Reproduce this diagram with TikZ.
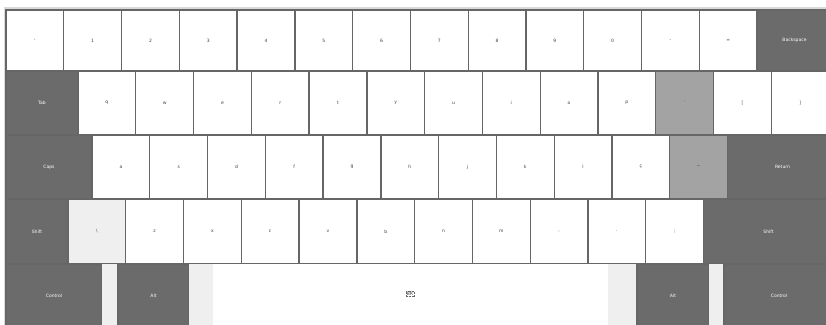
\documentclass[tikz,border=0pt]{standalone}
\usepackage{fontspec}
\newfontfamily\keyfont{DejaVu Sans}
\definecolor{keydark}{HTML}{6B6B6B}
\definecolor{keydead}{HTML}{A3A3A3}
\definecolor{keypale}{HTML}{EFEFEF}
\definecolor{keyedge}{HTML}{666666}

\begin{document}
\begin{tikzpicture}[x=1pt, y=-1pt,
    key/.style={draw=keyedge, line width=1.3pt, fill=white, anchor=north west,
      inner sep=0pt, outer sep=0pt, text=black!75,
      font=\keyfont\fontsize{4.5}{5}\selectfont, minimum width=57.8pt},
    modkey/.style={key, fill=keydark, text=white},
    deadkey/.style={key, fill=keydead},
    palekey/.style={key, fill=keypale},
    gapkey/.style={fill=keypale, anchor=north west, inner sep=0pt, outer sep=0pt}]
                \useasboundingbox (0,0) rectangle (826,324);
                \draw[draw=black!15, line width=1.5pt] (5,8) rectangle (840,340);
                % row 1
                \foreach \lab [count=\i from 0] in {',1,2,3,4,5,6,7,8,9,0,-,=}
                  \node[key, minimum height=61pt] (ra\i) at (6+57.77*\i,10) {\lab};
                \node[modkey, minimum width=75pt, minimum height=61pt] (bksp) at (757,10) {Backspace};
                % row 2
                \node[modkey, minimum width=72pt, minimum height=64pt] (tab) at (6,71) {Tab};
                \foreach \lab [count=\i from 0] in {q,w,e,r,t,y,u,i,o,p}
                  \node[key, minimum height=64pt] (rb\i) at (78+57.77*\i,71) {\lab};
                \node[deadkey, minimum height=64pt] (acute) at (655.7,71) {´};
                \foreach \lab [count=\i from 0] in {{[},{]}}
                  \node[key, minimum height=64pt] (brk\i) at (713.5+57.77*\i,71) {\lab};
                % row 3
                \node[modkey, minimum width=86pt, minimum height=64pt] (caps) at (6,135) {Caps};
                \foreach \lab [count=\i from 0] in {a,s,d,f,g,h,j,k,l,ç}
                  \node[key, minimum height=64pt] (rc\i) at (92+57.77*\i,135) {\lab};
                \node[deadkey, minimum height=64pt] (tilde) at (669.7,135) {\textasciitilde};
                \node[modkey, minimum width=110pt, minimum height=64pt] (ret) at (727.5,135) {Return};
                % row 4
                \node[modkey, minimum width=62pt, minimum height=65pt] (lshift) at (6,199) {Shift};
                \node[palekey, minimum height=65pt] (bslash) at (68,199) {\textbackslash};
                \foreach \lab [count=\i from 1] in {z,x,c,v,b,n,m,{,},.,;}
                  \node[key, minimum height=65pt] (rd\i) at (68+57.77*\i,199) {\lab};
                \node[modkey, minimum width=130pt, minimum height=65pt] (rshift) at (703.5,199) {Shift};
                % row 5
                \node[modkey, minimum width=96pt, minimum height=64pt] (lctrl) at (6,264) {Control};
                \node[gapkey, minimum width=16pt, minimum height=64pt] (gapa) at (102,264) {};
                \node[modkey, minimum width=71pt, minimum height=64pt] (lalt) at (118,264) {Alt};
                \node[gapkey, minimum width=24pt, minimum height=64pt] (gapb) at (189,264) {};
                \node[gapkey, fill=white, minimum width=395pt, minimum height=64pt] (space) at (213,264) {};
                \node[gapkey, minimum width=29pt, minimum height=64pt] (gapc) at (608,264) {};
                \node[modkey, minimum width=72pt, minimum height=64pt] (ralt) at (637,264) {Alt};
                \node[gapkey, minimum width=15pt, minimum height=64pt] (gapd) at (709,264) {};
                \node[modkey, minimum width=110pt, minimum height=64pt] (rctrl) at (724,264) {Control};
                \node[draw=black!60, densely dotted, inner sep=1pt, text=black!75,
                  font=\keyfont\fontsize{4.5}{5}\selectfont] (lang) at (410,294) {BR};
            \end{tikzpicture}
\end{document}
